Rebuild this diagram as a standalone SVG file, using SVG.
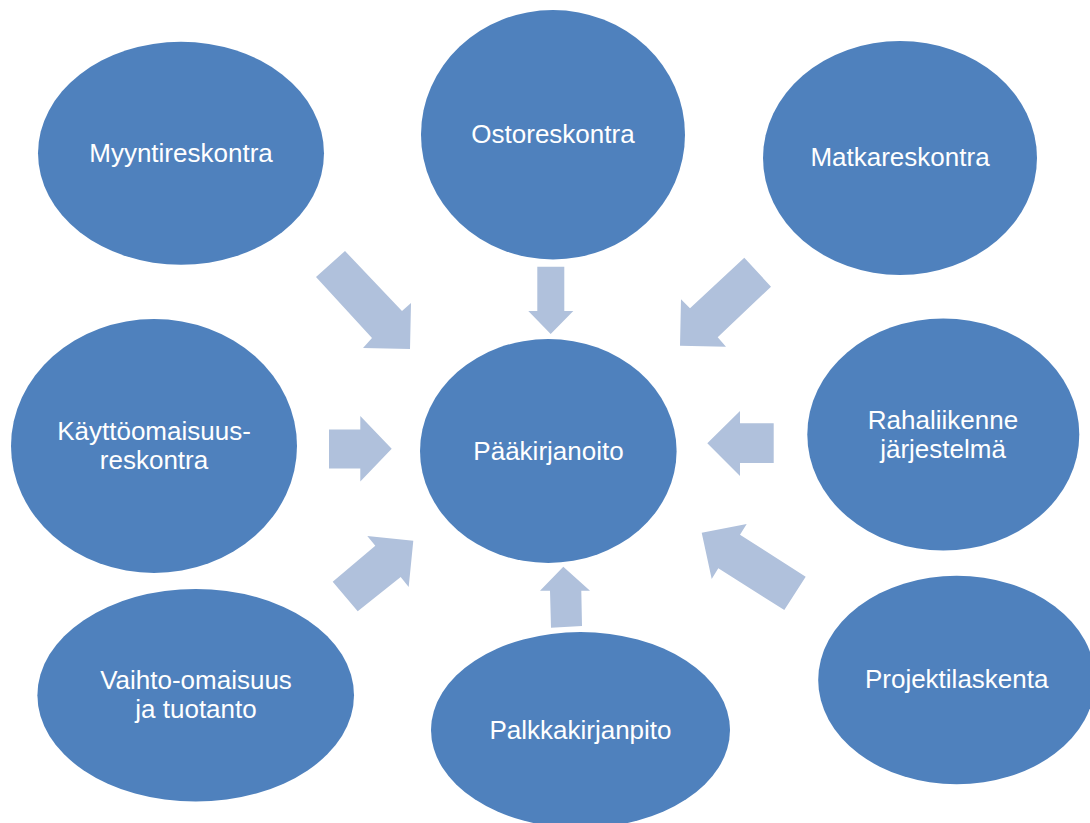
<svg xmlns="http://www.w3.org/2000/svg" width="1090" height="823" viewBox="0 0 1090 823">
<style>
.node ellipse{fill:#4F81BD}
.node text{fill:#FFFFFF;font-family:"Liberation Sans",Arial,sans-serif;font-size:26px;text-anchor:middle}
.arrow{fill:#B0C1DC}
</style>
<rect width="1090" height="823" fill="#FFFFFF"/>
<g id="connectors">
<polygon class="arrow" points="345,251 316,277 372,338 363,348 410,349 411,303 402,311"/>
<polygon class="arrow" points="537.3,266.7 564.3,266.7 564.3,311 573.3,311 550.7,334 528.3,311 537.3,311"/>
<polygon class="arrow" points="744.3,257.7 771,286.7 717.7,337.3 726,346.7 680,345.7 681,299.3 690,308.3"/>
<polygon class="arrow" points="329,429.5 360.3,429.5 360.3,416 391.7,448.7 360.3,481.5 360.3,468.5 329,468.5"/>
<polygon class="arrow" points="773.7,423.3 740,423.3 740,411 707.3,443.3 740,476 740,463 773.7,463"/>
<polygon class="arrow" points="332.7,581.7 357.7,611.3 400.7,577 408.7,587 413.3,540.7 367.3,536 375.3,545.7"/>
<polygon class="arrow" points="551,627.7 582,626 581.3,590.7 590,590.7 563.3,566.7 540,590.7 550,590.7"/>
<polygon class="arrow" points="805.7,576.7 784.3,610 718.3,568.3 711.7,579 701.7,532.7 746.7,524 740,534.7"/>
</g>
<g id="node-myyntireskontra" class="node">
<ellipse cx="181" cy="153.3" rx="143" ry="111.5"/>
<text x="181" y="162">Myyntireskontra</text>
</g>
<g id="node-ostoreskontra" class="node">
<ellipse cx="553" cy="134.7" rx="132" ry="124.7"/>
<text x="553" y="143.3">Ostoreskontra</text>
</g>
<g id="node-matkareskontra" class="node">
<ellipse cx="900" cy="158" rx="137" ry="117"/>
<text x="900" y="165.7">Matkareskontra</text>
</g>
<g id="node-kayttoomaisuus" class="node">
<ellipse cx="154" cy="446" rx="143" ry="127"/>
<text x="154" y="439.7">Käyttöomaisuus-</text>
<text x="154" y="468.8">reskontra</text>
</g>
<g id="node-paakirjanoito" class="node">
<ellipse cx="548.3" cy="451" rx="128.3" ry="112"/>
<text x="548.5" y="460">Pääkirjanoito</text>
</g>
<g id="node-rahaliikenne" class="node">
<ellipse cx="943.3" cy="434.5" rx="136" ry="116"/>
<text x="943" y="428.5">Rahaliikenne</text>
<text x="943" y="457.6">järjestelmä</text>
</g>
<g id="node-vaihto-omaisuus" class="node">
<ellipse cx="195.7" cy="695.3" rx="158.3" ry="106.3"/>
<text x="196" y="688.5">Vaihto-omaisuus</text>
<text x="196" y="717.6">ja tuotanto</text>
</g>
<g id="node-palkkakirjanpito" class="node">
<ellipse cx="580.5" cy="730" rx="149.5" ry="98"/>
<text x="580.5" y="739">Palkkakirjanpito</text>
</g>
<g id="node-projektilaskenta" class="node">
<ellipse cx="956.7" cy="680" rx="138.5" ry="104.3"/>
<text x="956.7" y="688.3">Projektilaskenta</text>
</g>
</svg>
